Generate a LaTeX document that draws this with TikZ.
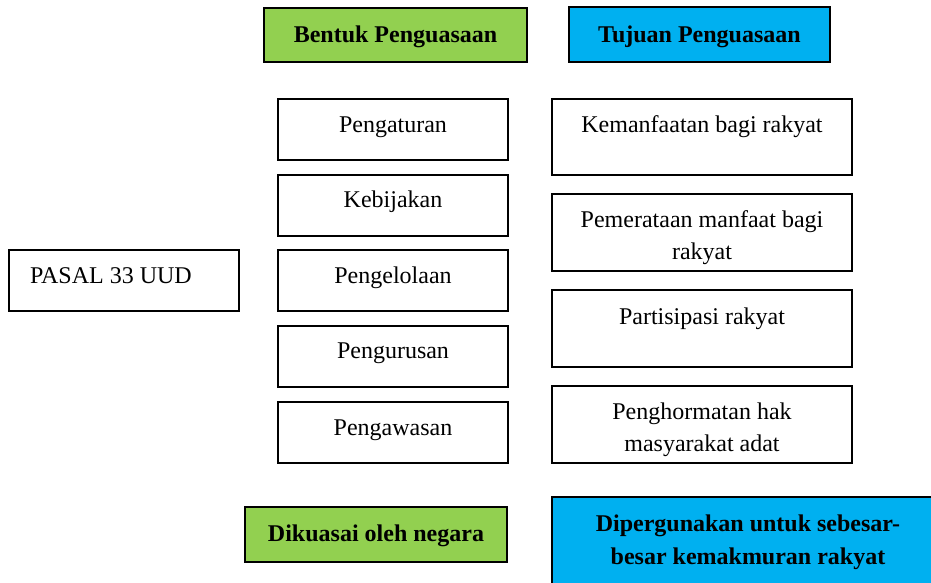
\documentclass[tikz,border=0pt]{standalone}
\usepackage{fontspec}
\setmainfont{Liberation Serif}
\definecolor{hdrgreen}{HTML}{92D050}
\definecolor{hdrblue}{HTML}{00B0F0}
\tikzset{
  box/.style={draw=black, line width=1.9pt, inner sep=0pt, outer sep=0pt, fill=white},
  greenbox/.style={box, fill=hdrgreen},
  bluebox/.style={box, fill=hdrblue},
  txt/.style={inner sep=0pt, outer sep=0pt, align=center, anchor=north,
    font=\fontsize{24}{32.5}\selectfont},
  boldtxt/.style={txt, font=\fontsize{24}{33}\selectfont\bfseries},
}
\begin{document}
\begin{tikzpicture}[x=1pt, y=-1pt]
  \useasboundingbox (0,0) rectangle (931,582);
  \clip (0,0) rectangle (931,582);

  % column headers
  \node[greenbox, minimum width=263pt, minimum height=54pt] (bentuk) at (395.5,35) {};
  \node[boldtxt] (bentuk-t) at (395.5,26) {Bentuk Penguasaan};
  \node[bluebox, minimum width=261pt, minimum height=55pt] (tujuan) at (699.5,34.5) {};
  \node[boldtxt] (tujuan-t) at (699.5,26) {Tujuan Penguasaan};

  % source article
  \node[box, minimum width=230pt, minimum height=61pt] (pasal) at (124,280.5) {};
  \node[txt, anchor=base west] (pasal-t) at (30,283) {PASAL 33 UUD};

  % forms of control
  \node[box, minimum width=230pt, minimum height=61pt] (f1) at (393,129.5) {};
  \node[txt] (f1-t) at (393,117) {Pengaturan};
  \node[box, minimum width=230pt, minimum height=61pt] (f2) at (393,205.5) {};
  \node[txt] (f2-t) at (393,191) {Kebijakan};
  \node[box, minimum width=230pt, minimum height=61pt] (f3) at (393,280.5) {};
  \node[txt] (f3-t) at (393,267) {Pengelolaan};
  \node[box, minimum width=230pt, minimum height=61pt] (f4) at (393,356.5) {};
  \node[txt] (f4-t) at (393,343) {Pengurusan};
  \node[box, minimum width=230pt, minimum height=61pt] (f5) at (393,432.5) {};
  \node[txt] (f5-t) at (393,419.5) {Pengawasan};

  % aims of control
  \node[box, minimum width=300pt, minimum height=76pt] (g1) at (702,137) {};
  \node[txt] (g1-t) at (702,115.5) {Kemanfaatan bagi rakyat};
  \node[box, minimum width=300pt, minimum height=77pt] (g2) at (702,232.5) {};
  \node[txt] (g2-t) at (702,210.5) {Pemerataan manfaat bagi\\rakyat};
  \node[box, minimum width=300pt, minimum height=77pt] (g3) at (702,328.5) {};
  \node[txt] (g3-t) at (702,307.5) {Partisipasi rakyat};
  \node[box, minimum width=300pt, minimum height=77pt] (g4) at (702,424.5) {};
  \node[txt] (g4-t) at (702,402.5) {Penghormatan hak\\masyarakat adat};

  % summary boxes
  \node[greenbox, minimum width=262pt, minimum height=55pt] (negara) at (376,534.5) {};
  \node[boldtxt] (negara-t) at (376,525) {Dikuasai oleh negara};
  \node[bluebox, minimum width=392pt, minimum height=95pt] (makmur) at (748,544.5) {};
  \node[boldtxt] (makmur-t) at (748,514.5) {Dipergunakan untuk sebesar-\\besar kemakmuran rakyat};
\end{tikzpicture}
\end{document}
